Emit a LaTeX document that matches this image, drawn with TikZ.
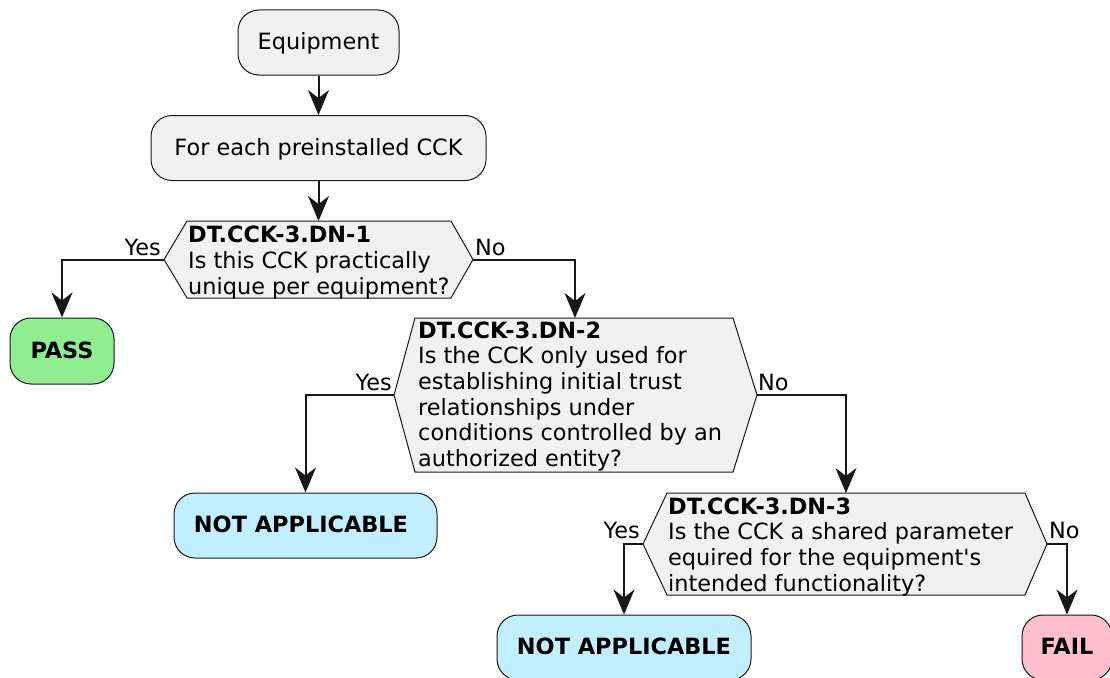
\documentclass[tikz,border=0pt]{standalone}
\usepackage{fontspec}
\setmainfont{DejaVu Sans}[Ligatures=TeXOff]
\usetikzlibrary{arrows.meta}
\definecolor{linec}{HTML}{181818}
\definecolor{boxfill}{HTML}{F1F1F1}
\definecolor{passfill}{HTML}{90EE90}
\definecolor{nafill}{HTML}{C2EFFF}
\definecolor{failfill}{HTML}{FFC0CB}
\tikzset{
  txt/.style={font=\fontsize{22.4}{25.6}\selectfont},
  box/.style={txt, draw=linec, fill=boxfill, rounded corners=21, line width=1,
    inner sep=0, minimum height=65, text height=16, text depth=2},
  endbox/.style={box, font=\fontsize{22.4}{25.6}\selectfont\bfseries},
  hex/.style={draw=linec, fill=boxfill, line width=1, line join=miter},
  hextext/.style={txt, anchor=north west, align=left, inner sep=0},
  conn/.style={draw=linec, line width=2, -{Stealth[length=25, width=21, inset=8]}},
  lbl/.style={txt, inner sep=0}
}
\begin{document}
\begin{tikzpicture}[x=1pt, y=-1pt]
\useasboundingbox (0,0) rectangle (1110,677);
\clip (0,0) rectangle (1110,677);
\fill[white] (0,0) rectangle (1110,677);

% start boxes
\node[box, minimum width=161] (equip) at (318.5,42.5) {Equipment};
\node[box, minimum width=335] (foreach) at (318.5,148) {For each preinstalled CCK};

% decision 1
\coordinate (d1w) at (164,259.5);
\coordinate (d1e) at (473,259.5);
\coordinate (d1n) at (318.5,221);
\path[hex] (d1w) -- (187,221) -- (451,221) -- (d1e) -- (451,298) -- (187,298) -- cycle;
\node[hextext] (d1) at (188,226) {\textbf{DT.CCK-3.DN-1}\\Is this CCK practically\\unique per equipment?};

% decision 2
\coordinate (d2w) at (394,395);
\coordinate (d2e) at (757,395);
\coordinate (d2n) at (575,318);
\path[hex] (d2w) -- (415,318) -- (733,318) -- (d2e) -- (733,472) -- (415,472) -- cycle;
\node[hextext] (d2) at (418,321.5) {\textbf{DT.CCK-3.DN-2}\\Is the CCK only used for\\establishing initial trust\\relationships under\\conditions controlled by an\\authorized entity?};

% decision 3
\coordinate (d3w) at (643,544);
\coordinate (d3e) at (1047,544);
\coordinate (d3n) at (846,493);
\path[hex] (d3w) -- (667,493) -- (1025,493) -- (d3e) -- (1025,595) -- (667,595) -- cycle;
\node[hextext] (d3) at (668,497.5) {\textbf{DT.CCK-3.DN-3}\\Is the CCK a shared parameter\\equired for the equipment's\\intended functionality?};

% end boxes
\node[endbox, fill=passfill, minimum width=104, minimum height=66] (pass) at (62,351) {PASS};
\node[endbox, fill=nafill, minimum width=263] (na1) at (305.5,525.5) {\hspace*{-9pt}NOT APPLICABLE};
\node[endbox, fill=nafill, minimum width=254] (na2) at (624,647.5) {NOT APPLICABLE};
\node[endbox, fill=failfill, minimum width=90] (fail) at (1067,647.5) {FAIL};

% connectors
\draw[conn] (equip.south) -- (foreach.north);
\draw[conn] (foreach.south) -- (d1n);
\draw[conn] (d1w) -| (pass.north);
\draw[conn] (d1e) -| (d2n);
\draw[conn] (d2w) -| (na1.north);
\draw[conn] (d2e) -| (d3n);
\draw[conn] (d3w) -| (na2.north);
\draw[conn] (d3e) -| (fail.north);

% labels
\node[lbl, anchor=base east] (l1y) at (161,255) {Yes};
\node[lbl, anchor=base west] (l1n) at (475,255) {No};
\node[lbl, anchor=base east] (l2y) at (392,390) {Yes};
\node[lbl, anchor=base west] (l2n) at (758,390) {No};
\node[lbl, anchor=base east] (l3y) at (640,538) {Yes};
\node[lbl, anchor=base west] (l3n) at (1049,538) {No};
\end{tikzpicture}
\end{document}
